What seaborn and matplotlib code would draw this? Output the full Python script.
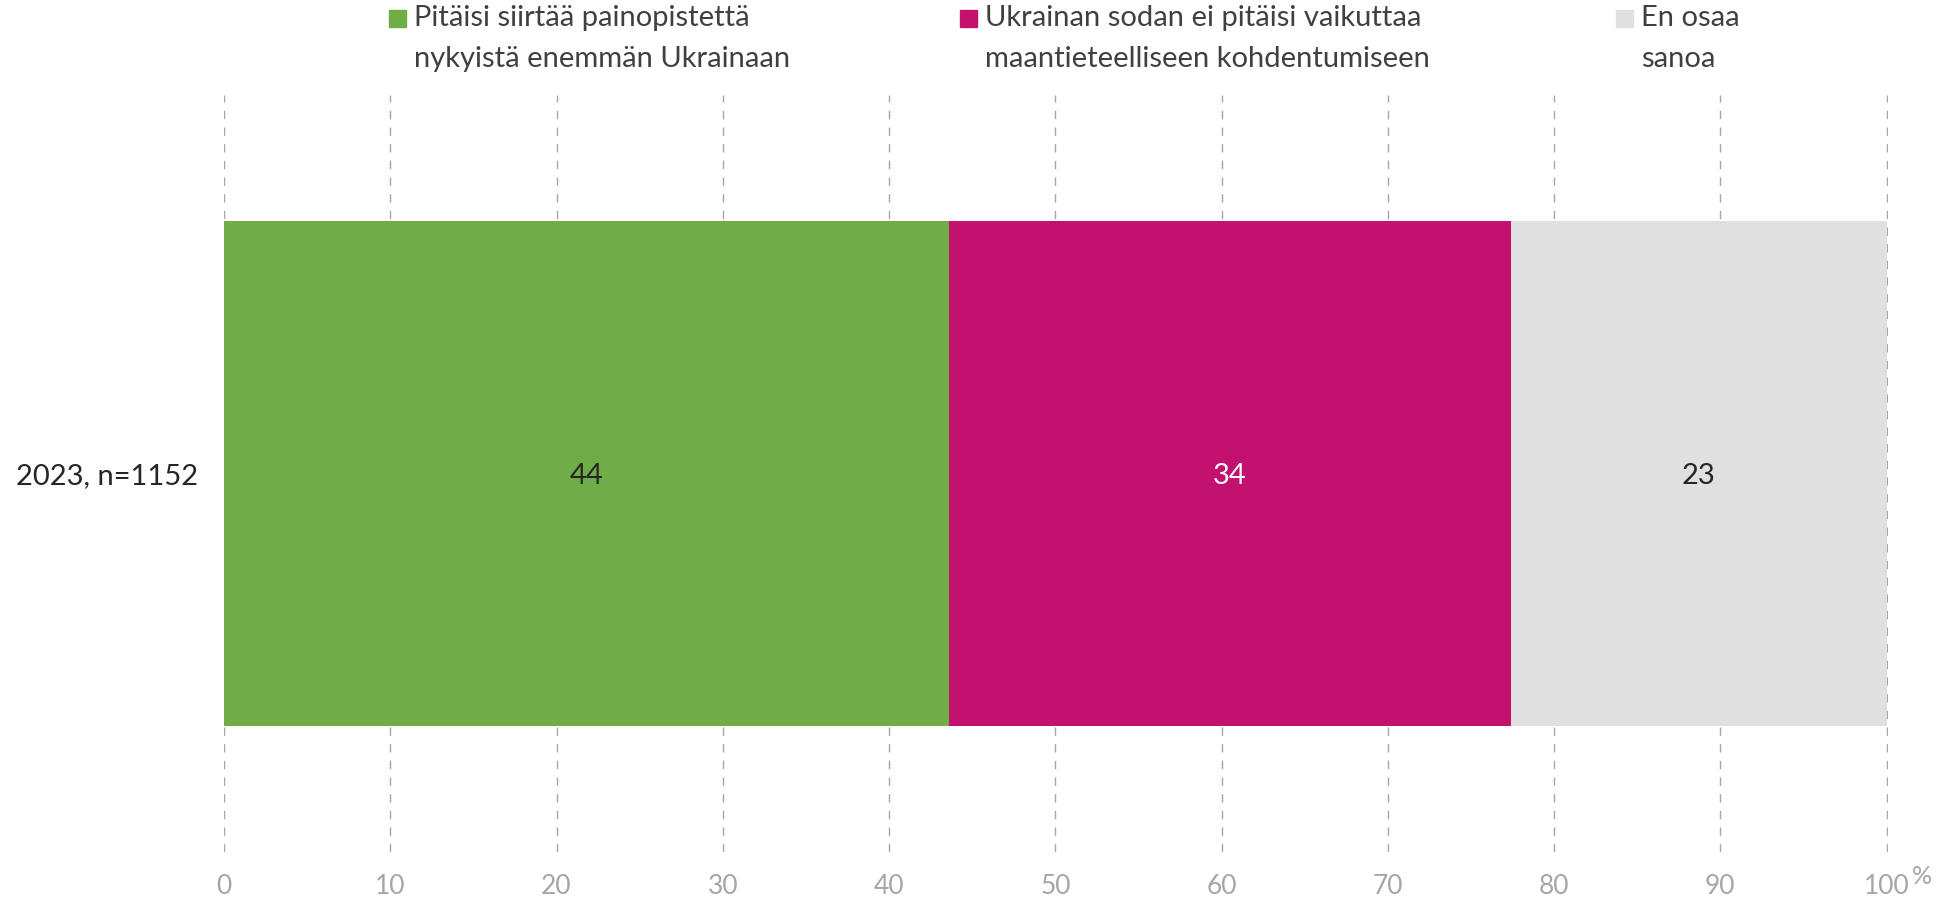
import numpy as np
import pandas as pd
import matplotlib
matplotlib.use("Agg")
import matplotlib.pyplot as plt
import seaborn as sns
from matplotlib.patches import Rectangle

# data
row_label = "2023, n=1152"
categories = ["Pitäisi siirtää painopistettä\nnykyistä enemmän Ukrainaan",
              "Ukrainan sodan ei pitäisi vaikuttaa\nmaantieteelliseen kohdentumiseen",
              "En osaa\nsanoa"]
values = [43.6, 33.8, 22.6]
value_labels = ["44", "34", "23"]
colors = ["#70AD47", "#C2116F", "#E0E0E0"]
label_colors = ["#262626", "#FFFFFF", "#262626"]
ticks = [0, 10, 20, 30, 40, 50, 60, 70, 80, 90, 100]

sns.set_style("white")
plt.rcParams['font.family'] = ['Lato', 'DejaVu Sans']

fig = plt.figure(figsize=(19.55, 9.07), dpi=100)
ax = fig.add_axes([0.1146, 0.0606, 0.8511, 0.8347])

# stacked bars: draw cumulative totals from the back to the front
cum = np.cumsum(values)
for i in reversed(range(len(values))):
    df = pd.DataFrame({"row": [row_label], "val": [cum[i]]})
    sns.barplot(data=df, x="val", y="row", color=colors[i], width=0.666,
                saturation=1, ax=ax, orient="h", linewidth=0)

starts = cum - np.array(values)
for s, v, lab, c in zip(starts, values, value_labels, label_colors):
    ax.text(s + v / 2, 0.003, lab, ha="center", va="center", fontsize=21, color=c)

ax.set_xlim(0, 100.08)
ax.set_ylim(0.5, -0.5)
ax.set_xticks(ticks)
ax.set_xticklabels([str(t) for t in ticks], fontsize=19, color="#A6A6A6")
ax.tick_params(axis="x", length=0, pad=16)
ax.tick_params(axis="y", length=0, pad=19, labelsize=21, labelcolor="#262626")
ax.set_xlabel("")
ax.set_ylabel("")
ax.grid(axis="x", color="#A6A6A6", linestyle=(0, (6, 6)), linewidth=1)
ax.grid(axis="y", visible=False)
ax.set_axisbelow(True)
for sp in ax.spines.values():
    sp.set_visible(False)

fig.text(1922 / 1955, 1 - 877 / 907, "%", fontsize=18, color="#A6A6A6",
         ha="center", va="center")

# legend, drawn by hand so the handles sit on the first line
leg_x = [389, 960, 1616]
for x, lab, c in zip(leg_x, categories, colors):
    fig.patches.append(Rectangle((x / 1955, 1 - 27 / 907), 17 / 1955, 17 / 907,
                                 transform=fig.transFigure, color=c))
    fig.text((x + 25) / 1955, 1 - 5 / 907, lab, fontsize=21, color="#404040",
             ha="left", va="top", linespacing=1.72)

fig.savefig("out.png", dpi=100)
